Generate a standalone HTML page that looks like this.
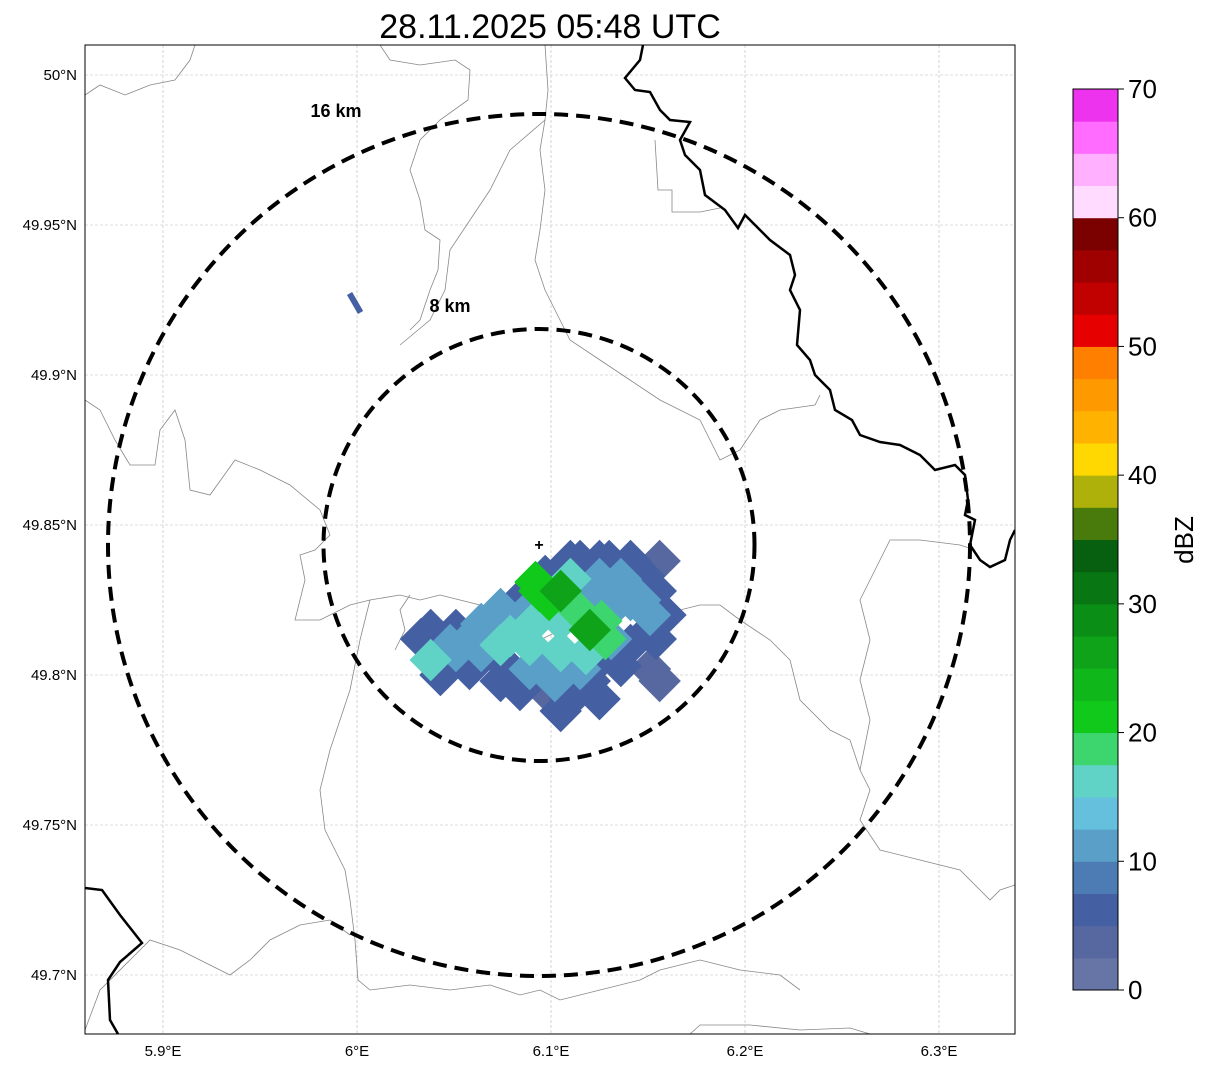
<!DOCTYPE html>
<html><head><meta charset="utf-8"><style>
html,body{margin:0;padding:0;background:#fff;}
svg{display:block;font-family:"Liberation Sans",sans-serif;}
</style></head><body>
<svg id="s" width="1207" height="1069" viewBox="0 0 1207 1069" xmlns="http://www.w3.org/2000/svg">
<text x="550" y="38" font-size="34" text-anchor="middle">28.11.2025 05:48 UTC</text>
<defs><clipPath id="clip"><rect x="85" y="45" width="930" height="989"/></clipPath></defs>
<g id="grid"></g>
<g clip-path="url(#clip)">
<g fill="none" stroke="#888" stroke-width="0.8">
<polyline points="85,95 100,85 125,95 150,85 175,80 190,60 195,45"/>
<polyline points="380,45 390,60 420,65 455,60 470,70 468,100 440,120 420,140 410,170 420,200 425,230 440,240 438,270 430,290 420,320 410,330"/>
<polyline points="545,45 548,90 545,120 540,150 545,190 540,230 535,260 545,290 560,320 570,340 600,360 630,380 660,400 700,420 720,460 740,450 760,420 780,410 815,405 820,395"/>
<polyline points="545,120 510,150 490,190 470,220 450,250 445,290 430,320 400,345"/>
<polyline points="85,400 100,410 115,440 130,465 155,465 160,430 175,410 185,440 190,490 210,495 235,460 260,470 290,485 320,510 330,535 315,550 300,555 305,580 295,620 320,620 350,605 370,600 400,595 420,600 440,595 460,600 480,605 500,620 520,630 540,640 560,630 580,620 600,610 620,610 640,605 660,600 680,610 700,605 720,605 740,620 770,640 790,660"/>
<polyline points="410,595 400,610 405,630 395,650"/>
<polyline points="370,600 360,640 350,690 340,720 330,750 320,790 325,830 335,850 345,870 350,900 355,940 358,980 370,990 410,985 450,990 490,985 520,995 540,990 560,1000 600,990 640,980 660,970 700,960 740,970 780,975 800,990"/>
<polyline points="790,660 800,700 830,730 850,740 860,770 870,790 860,820 880,850 920,860 960,870 980,890 990,900 1000,890 1015,885"/>
<polyline points="880,560 890,540 920,540 960,545 975,550"/>
<polyline points="860,770 870,720 860,680 870,640 860,600 880,560"/>
<polyline points="85,1030 100,990 130,960 150,940 180,950 200,960 230,975 250,960 270,940 300,925 330,920 350,935"/>
<polyline points="690,1034 700,1025 750,1025 800,1030 850,1028 870,1034"/>
<polyline points="655,140 658,190 672,190 672,212 700,212 720,208"/>
</g>
<g fill="none" stroke="#000" stroke-width="2.5">
<polyline points="643,45 640,60 625,78 635,90 650,92 660,110 670,120 690,122 680,140 685,155 700,170 705,195 725,210 738,228 745,215 770,240 790,255 795,275 790,290 800,310 797,345 810,360 815,375 830,390 835,410 852,420 860,435 880,442 900,445 920,455 935,470 955,465 965,475 968,500 965,515 975,520 970,545 980,560 990,567 1005,560 1010,540 1015,530"/>
<polyline points="85,888 102,890 120,915 142,943 120,962 108,980 110,1020 118,1034"/>
</g>
<g id="echo"></g>
<g fill="none" stroke="#000" stroke-width="4" stroke-dasharray="14,8">
<ellipse cx="539" cy="545" rx="431" ry="431"/>
<ellipse cx="539" cy="545" rx="215.5" ry="216"/>
</g>
<text x="539" y="550" font-size="16" font-weight="bold" text-anchor="middle">+</text>
<text x="336" y="117" font-size="18" font-weight="bold" text-anchor="middle">16 km</text>
<text x="450" y="312" font-size="18" font-weight="bold" text-anchor="middle">8 km</text>
</g>
<rect x="85" y="45" width="930" height="989" fill="none" stroke="#000" stroke-width="1"/>
<g id="axes" font-size="15"></g>
<g id="cbar"></g>
<text x="1193" y="540" font-size="26" text-anchor="middle" transform="rotate(-90 1193 540)">dBZ</text>
</svg>
<script>
const lonTicks=[5.9,6.0,6.1,6.2,6.3];
const lonLabels=["5.9°E","6°E","6.1°E","6.2°E","6.3°E"];
const latTicks=[50.0,49.95,49.9,49.85,49.8,49.75,49.7];
const latLabels=["50°N","49.95°N","49.9°N","49.85°N","49.8°N","49.75°N","49.7°N"];
const cbarColors=["#6674a6","#56689f","#4560a2","#4d7bb3","#599fc8","#64c0dd","#61d3c6","#3dd66e","#10c91a","#10b71a","#0ea319","#0b8e16","#097614","#075f10","#487a0c","#adb10a","#fed800","#ffb300","#ff9900","#ff7f00","#e60000","#c10000","#9f0000","#7b0000","#ffdcff","#ffb0ff","#ff6cff","#ee33ee"];
const cbarTicks=[0,10,20,30,40,50,60,70];
const cellLon=[6.033,6.043,6.051,6.059,6.074,6.084,6.097,6.110,6.120,6.125,6.136,6.151,6.154,6.159,6.154,6.156,6.141,6.125,6.110,6.097,6.084,6.074,6.064,6.051,6.038,6.064,6.079,6.092,6.105,6.118,6.131,6.141,6.105,6.095,6.118,6.131,6.074,6.089,6.099,6.105,6.113,6.126,6.120,6.128,6.151,6.094,6.092,
6.048,6.058,6.069,6.079,6.089,6.105,6.120,6.136,6.148,6.058,6.074,6.089,6.102,6.115,6.125,6.141,6.151,6.146,6.125,6.110,6.115,6.130,6.105,6.125,6.156,6.038,5.999];
const cellLat=[49.812,49.800,49.815,49.805,49.805,49.795,49.795,49.792,49.798,49.792,49.803,49.802,49.812,49.820,49.828,49.838,49.838,49.838,49.838,49.833,49.825,49.822,49.817,49.808,49.805,49.808,49.813,49.818,49.818,49.817,49.822,49.825,49.808,49.805,49.807,49.812,49.810,49.810,49.825,49.828,49.822,49.818,49.815,49.812,49.820,49.828,49.831,
49.810,49.812,49.815,49.818,49.822,49.825,49.828,49.832,49.833,49.802,49.798,49.802,49.798,49.802,49.805,49.810,49.815,49.825,49.832,49.832,49.838,49.838,49.788,49.792,49.798,49.815,49.924];
const cellDbz=[6,5,7,7,5,5,3,5,5,5,5,3,5,5,5,3,5,5,5,7,7,10,10,12,17,12,15,15,15,15,12,12,15,12,15,12,15,15,22,27,18,18,25,18,12,22,20,
10,12,12,12,12,12,10,10,5,7,5,10,12,10,7,7,5,10,10,15,7,7,5,4,4,7,5];
const X=lon=>357+(lon-6.0)*1940, Y=lat=>75+(50-lat)*3000;
const NS="http://www.w3.org/2000/svg";
function mk(tag,attrs,parent){const e=document.createElementNS(NS,tag);for(const k in attrs)e.setAttribute(k,attrs[k]);parent.appendChild(e);return e;}
const grid=document.getElementById('grid'),axes=document.getElementById('axes');
lonTicks.forEach((v,i)=>{const x=X(v);
const l=mk('line',{x1:x,x2:x,y1:45,y2:1034,stroke:'#bbb','stroke-width':0.6,'stroke-dasharray':'3,2'},grid);


const t=mk('text',{x:x,y:1056,'text-anchor':'middle'},axes);t.textContent=lonLabels[i];

});
latTicks.forEach((v,i)=>{const y=Y(v);
const l=mk('line',{x1:85,x2:1015,y1:y,y2:y,stroke:'#bbb','stroke-width':0.6,'stroke-dasharray':'3,2'},grid);


const t=mk('text',{x:77,y:y+5,'text-anchor':'end'},axes);t.textContent=latLabels[i];

});
function colorFor(d){return cbarColors[Math.max(0,Math.min(27,Math.floor(d/2.5)))];}
const echo=document.getElementById('echo');
const order=cellDbz.map((d,i)=>i).sort((a,b)=>cellDbz[a]-cellDbz[b]);
order.forEach(i=>{const x=X(cellLon[i]),y=Y(cellLat[i]);const small=i===cellLon.length-1;
const w=small?6:30,h=small?22:30;
const r=mk('rect',{x:x-w/2,y:y-h/2,width:w,height:h,fill:colorFor(cellDbz[i]),transform:`rotate(${small?-30:45} ${x} ${y})`},echo);

});
const cb=document.getElementById('cbar');const cbTop=89,cbBot=990,cx=1073,cw=45;const seg=(cbBot-cbTop)/28;
cbarColors.forEach((c,i)=>{const r=mk('rect',{x:cx,y:cbBot-(i+1)*seg,width:cw,height:seg+0.5,fill:c},cb);

});
mk('rect',{x:cx,y:cbTop,width:cw,height:cbBot-cbTop,fill:'none',stroke:'#000','stroke-width':1},cb);
cbarTicks.forEach(v=>{const y=cbBot-(v/70)*(cbBot-cbTop);
mk('line',{x1:cx+cw,x2:cx+cw+6,y1:y,y2:y,stroke:'#000'},cb);
const t=mk('text',{x:cx+cw+10,y:y+9,'font-size':26},cb);t.textContent=v;

});
</script>
</body></html>
